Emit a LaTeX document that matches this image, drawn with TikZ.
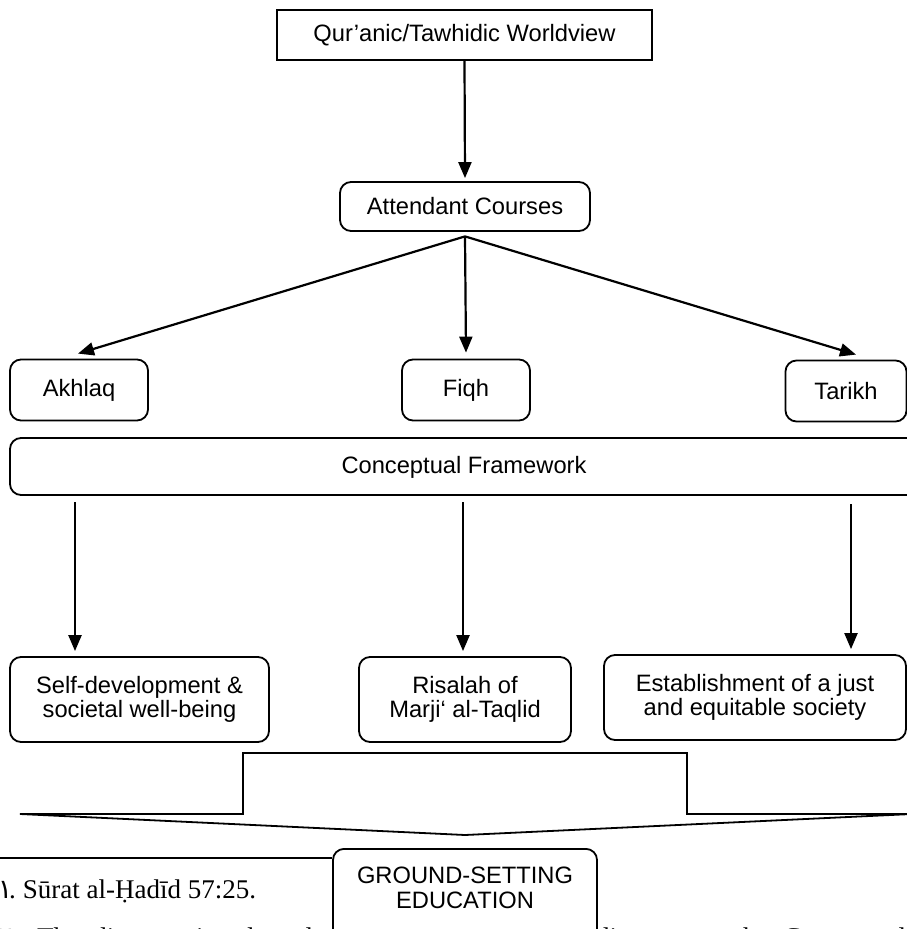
\documentclass[tikz,border=0pt]{standalone}
\usepackage{fontspec}
\setmainfont{Liberation Sans}
\newfontfamily\fnserif{Liberation Serif}
\newfontfamily\ardigits{DejaVu Sans}
\usetikzlibrary{arrows.meta}
\newcommand\mainsz{\fontsize{23.7}{24.5}\selectfont}
\newcommand\fnsz{\fontsize{27}{30}\selectfont}
\begin{document}
\begin{tikzpicture}[x=1pt,y=-1pt,
  sqbox/.style={draw, line width=1.8pt, align=center, inner sep=0pt, font=\mainsz},
  rbox/.style={sqbox, rounded corners=11pt},
  arr/.style={line width=2.2pt, -{Triangle[length=16pt,width=13pt]}},
  shapeline/.style={line width=1.8pt, line join=miter},
  fntext/.style={inner sep=0pt, anchor=base west, font=\fnserif\fnsz}]
\useasboundingbox (0,0) rectangle (907,929);
\clip (0,0) rectangle (907,929);
% nodes
\node[sqbox, minimum width=375pt, minimum height=50pt] (top) at (464.5,35) {Qur’anic/Tawhidic Worldview};
\node[rbox, minimum width=250pt, minimum height=49pt] (att) at (465,206.5) {Attendant Courses};
\node[rbox, minimum width=138pt, minimum height=61pt] (akh) at (79,390) {Akhlaq};
\node[rbox, minimum width=128pt, minimum height=61pt] (fiqh) at (466,390) {Fiqh};
\node[rbox, minimum width=121pt, minimum height=61pt] (tar) at (846,391) {Tarikh};
\node[rbox, minimum width=915pt, minimum height=57pt] (conc) at (467.5,466.5) {};
\node[font=\mainsz, inner sep=0pt] (conctext) at (464,467) {Conceptual Framework};
\node[rbox, minimum width=259pt, minimum height=85pt] (self) at (139.5,699.5) {Self-development \&\\societal well-being};
\node[rbox, minimum width=212pt, minimum height=85pt] (ris) at (465,699.5) {Risalah of\\Marji‘ al-Taqlid};
\node[rbox, minimum width=302pt, minimum height=85pt] (est) at (755,697.5) {Establishment of a just\\and equitable society};
% arrows
\draw[arr] (top.south) -- ([yshift=3pt]att.north);
\coordinate (attb) at ([yshift=-4.5pt]att.south);
\draw[arr] (attb) -- ([xshift=-1pt,yshift=5pt]akh.north);
\draw[arr] (attb) -- ([yshift=6pt]fiqh.north);
\draw[arr] (attb) -- ([xshift=10pt,yshift=5pt]tar.north);
\coordinate (c1) at (75,502);
\coordinate (c2) at (463,502);
\coordinate (c3) at (851,504);
\draw[arr] (c1) -- ([yshift=5pt]c1 |- self.north);
\draw[arr] (c2) -- ([yshift=5pt]c2 |- ris.north);
\draw[arr] (c3) -- ([yshift=5pt]c3 |- est.north);
% big arrow shape
\draw[shapeline] (243,753) -- (687,753) -- (687,814) -- (912,814) -- (465,835) -- (20,814) -- (243,814) -- cycle;
% footnotes
\node[fntext] (fn1) at (1,898) {\makebox[8pt]{\ardigits ١}.\hspace{7pt}Sūrat al-Ḥadīd 57:25.};
\node[fntext] (fn2a) at (1,946) {\makebox[8pt]{\ardigits ٢}.};
\node[fntext] (fn2b) at (37,946) {\makebox[309pt][s]{The diagram is adapted A}};
\node[fntext] (fn2c) at (596,946) {\makebox[310pt][s]{ding up to the Conceptual}};
% ground-setting box
\node[rbox, fill=white, minimum width=264pt, minimum height=140pt, anchor=north] (ground) at (465,848) {};
\node[font=\mainsz, align=center, inner sep=0pt] (groundtext) at (465,888) {GROUND-SETTING\\EDUCATION};
\coordinate (rule0) at (0,858);
\draw[line width=1.8pt] (rule0) -- (rule0 -| ground.west);
\end{tikzpicture}
\end{document}
